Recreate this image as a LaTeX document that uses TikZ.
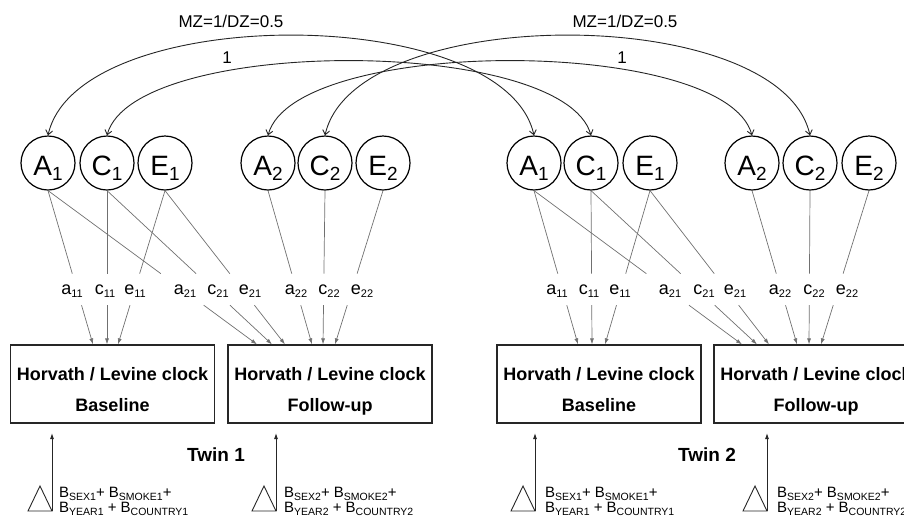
\documentclass[tikz,border=0pt]{standalone}
\usepackage{fontspec}
\setmainfont{Liberation Sans}
\usetikzlibrary{arrows.meta,calc}

\definecolor{pathgray}{RGB}{112,112,112}
\definecolor{inkdark}{RGB}{38,38,38}

% subscripts for the latent factors, the path labels and the covariates
\newcommand\csub[1]{\raisebox{-5pt}{\fontsize{19}{19}\selectfont #1}}
\newcommand\psub[1]{\raisebox{-3pt}{\fontsize{11}{11}\selectfont #1}}
\newcommand\bsub[1]{\raisebox{-3pt}{\fontsize{10.5}{10.5}\selectfont #1}}

% two-line text of a clock box
\newcommand\clocktext[1]{\rule{0pt}{27pt}Horvath / Levine clock\\#1\rule[-4pt]{0pt}{4pt}}

% a loading path: a line from the factor, broken around its label, then an arrow into the box
\newcommand\acepath[2]{%
  \draw[pathline] (#1.south) -- ($(#1.south)!0.54!(#2)$);
  \draw[pathline,-{Latex[length=6pt,width=4pt]}] ($(#1.south)!0.745!(#2)$) -- (#2);}

\begin{document}
\begin{tikzpicture}[x=1pt,y=-1pt,
  latent/.style={circle,draw=black,line width=1.2pt,minimum size=54pt,inner sep=0pt,
                 text height=24pt,text depth=0pt,font=\fontsize{28}{28}\selectfont},
  clock/.style={draw=inkdark,line width=1.2pt,minimum width=204pt,minimum height=78pt,
                inner sep=0pt,align=center,font=\bfseries\fontsize{18}{31}\selectfont},
  plabel/.style={anchor=base,inner sep=0pt,font=\fontsize{18}{18}\selectfont},
  pathline/.style={draw=pathgray,line width=0.7pt},
  covar/.style={draw=inkdark,line width=0.9pt,
                {Straight Barb[length=4.5pt,width=7pt]}-{Straight Barb[length=4.5pt,width=7pt]}},
  corrlabel/.style={inner sep=0pt,font=\fontsize{17}{17}\selectfont},
  twinlabel/.style={inner sep=0pt,font=\bfseries\fontsize{19}{19}\selectfont},
  covtext/.style={anchor=base west,inner sep=0pt,font=\fontsize{15}{15}\selectfont},
  constant/.style={draw=inkdark,line width=0.9pt},
  regarrow/.style={draw=inkdark,line width=0.9pt,-{Latex[length=6pt,width=4pt]}}]

\clip (0,0) rectangle (904,517);

% ---- latent factors, twin 1
\node[latent] (ta1) at (48,163)  {A\csub{1}};
\node[latent] (tc1) at (107,163) {C\csub{1}};
\node[latent] (te1) at (165,163) {E\csub{1}};
\node[latent] (ta2) at (268,163) {A\csub{2}};
\node[latent] (tc2) at (325,163) {C\csub{2}};
\node[latent] (te2) at (383,163) {E\csub{2}};
% ---- latent factors, twin 2
\node[latent] (ua1) at (534,163) {A\csub{1}};
\node[latent] (uc1) at (591,163) {C\csub{1}};
\node[latent] (ue1) at (650,163) {E\csub{1}};
\node[latent] (ua2) at (752,163) {A\csub{2}};
\node[latent] (uc2) at (810,163) {C\csub{2}};
\node[latent] (ue2) at (869,163) {E\csub{2}};

% ---- cross-twin correlations
\draw[covar] (ta1.north) .. controls (78,2) and (504,2) .. (ua1.north);
\draw[covar] (tc1.north) .. controls (134,36) and (563,36) .. (uc1.north);
\draw[covar] (tc2.north) .. controls (355,2) and (780,2) .. (uc2.north);
\draw[covar] (ta2.north) .. controls (295,36) and (725,36) .. (ua2.north);
\node[corrlabel] (rA1) at (231,21) {MZ=1/DZ=0.5};
\node[corrlabel] (rC1) at (227,58) {1};
\node[corrlabel] (rA2) at (625,21) {MZ=1/DZ=0.5};
\node[corrlabel] (rC2) at (622,58) {1};

% ---- clock boxes
\node[clock] (b1) at (112.5,384) {\clocktext{Baseline}};
\node[clock] (b2) at (330,384)   {\clocktext{Follow-up}};
\node[clock] (b3) at (599,384)   {\clocktext{Baseline}};
\node[clock] (b4) at (816,384)   {\clocktext{Follow-up}};

% ---- arrow ends on the box tops
\foreach \n/\x in {ea11/93,ec11/107,ee11/118,ea21/257,ec21/272,ee21/285,ea22/312,ec22/323,ee22/335,
                   fa11/578,fc11/592,fe11/605,fa21/742,fc21/757,fe21/769,fa22/797,fc22/809,fe22/821}
  \coordinate (\n) at (\x,344.4);

% ---- path labels
\foreach \n/\x/\t in {la11/72/a\psub{11},lc11/105/c\psub{11},le11/135/e\psub{11},
                      la21/185/a\psub{21},lc21/218/c\psub{21},le21/250/e\psub{21},
                      la22/296/a\psub{22},lc22/329/c\psub{22},le22/362/e\psub{22},
                      ma11/557/a\psub{11},mc11/589/c\psub{11},me11/620/e\psub{11},
                      ma21/670/a\psub{21},mc21/704/c\psub{21},me21/735/e\psub{21},
                      ma22/780/a\psub{22},mc22/814/c\psub{22},me22/847/e\psub{22}}
  \node[plabel] (\n) at (\x,294) {\t};

% ---- loadings, twin 1
\acepath{ta1}{ea11} \acepath{tc1}{ec11} \acepath{te1}{ee11}
\acepath{ta1}{ea21} \acepath{tc1}{ec21} \acepath{te1}{ee21}
\acepath{ta2}{ea22} \acepath{tc2}{ec22} \acepath{te2}{ee22}
% ---- loadings, twin 2
\acepath{ua1}{fa11} \acepath{uc1}{fc11} \acepath{ue1}{fe11}
\acepath{ua1}{fa21} \acepath{uc1}{fc21} \acepath{ue1}{fe21}
\acepath{ua2}{fa22} \acepath{uc2}{fc22} \acepath{ue2}{fe22}

% ---- twin labels
\node[twinlabel] (tw1) at (216,455) {Twin 1};
\node[twinlabel] (tw2) at (707,455) {Twin 2};

% ---- constants (triangles) and covariate regressions
\foreach \k/\x in {k1/52,k2/276,k3/535,k4/767}{
  \draw[constant] (\x-24,511) -- (\x-12,486) -- (\x,511) -- cycle;
  \coordinate (\k) at (\x,511);
  \coordinate (h\k) at (\x,433);
  \draw[regarrow] (\k) -- (h\k);
}

\node[covtext] (cv1a) at (59,497)  {B\bsub{SEX1}+ B\bsub{SMOKE1}+};
\node[covtext] (cv1b) at (59,512)  {B\bsub{YEAR1} + B\bsub{COUNTRY1}};
\node[covtext] (cv2a) at (284,497) {B\bsub{SEX2}+ B\bsub{SMOKE2}+};
\node[covtext] (cv2b) at (284,512) {B\bsub{YEAR2} + B\bsub{COUNTRY2}};
\node[covtext] (cv3a) at (545,497) {B\bsub{SEX1}+ B\bsub{SMOKE1}+};
\node[covtext] (cv3b) at (545,512) {B\bsub{YEAR1} + B\bsub{COUNTRY1}};
\node[covtext] (cv4a) at (777,497) {B\bsub{SEX2}+ B\bsub{SMOKE2}+};
\node[covtext] (cv4b) at (777,512) {B\bsub{YEAR2} + B\bsub{COUNTRY2}};

\end{tikzpicture}
\end{document}
